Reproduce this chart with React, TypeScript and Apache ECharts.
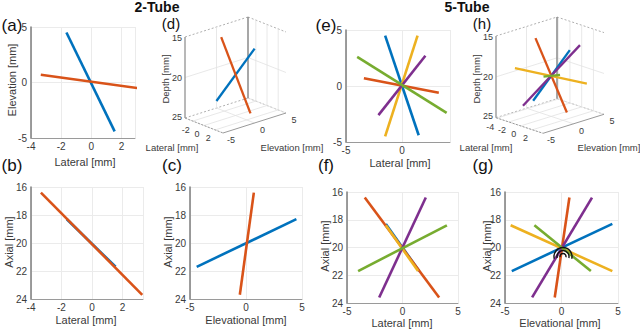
import React, { useEffect, useRef } from "react";
import * as echarts from "echarts";

// ---------------- data ----------------
const TUBE_COLORS = ["#0072BD", "#D95319", "#EDB120", "#7E2F8E", "#77AC30"];

// 2-tube phantom: [blue, orange], each [start, end] in mm
const twoTubeLateral = [[-1.65, 1.55], [-3.35, 3.3]];
const twoTubeElevation = [[4.5, -4.4], [0.7, -0.55]];
const twoTubeAxial = [[18.3, 21.7], [16.4, 23.7]];

// 5-tube phantom: [blue, orange, yellow, purple, green]
const fiveTubeLateral = [[-1.5, 1.5], [-3.4, 3.3], [-1.5, 1.4], [-2.1, 2.1], [-4.0, 4.0]];
const fiveTubeElevation = [[4.5, -4.4], [0.7, -0.6], [-4.5, 4.5], [-2.6, 2.7], [2.6, -2.4]];
const fiveTubeAxial = [[18.3, 21.7], [16.4, 23.6], [18.4, 21.7], [23.6, 16.4], [21.7, 18.4]];

// 3D tick labels
const depthTicks = [15, 20, 25];
const elevationTicks3D = [-5, 0, 5];
const lateralTicksTwo = [-2, 0, 2];
const lateralTicksFive = [-4, -2, 0, 2];

const FONT = "'Liberation Sans', Arial, Helvetica, sans-serif";
const TEXT_COLOR = "#3a3a3a";

type Panel2D = {
  left: number; top: number; width: number; height: number;
  x: [number, number]; xi: number; y: [number, number]; yi: number; inv: boolean;
  xs: number[][]; ys: number[][];
};

const panels2D: Panel2D[] = [
  { left: 31, top: 27, width: 104, height: 111, x: [-4, 2.9], xi: 2, y: [-5, 5], yi: 5, inv: false, xs: twoTubeLateral, ys: twoTubeElevation },
  { left: 31, top: 187, width: 112, height: 112, x: [-4, 3.35], xi: 2, y: [16, 24], yi: 2, inv: true, xs: twoTubeLateral, ys: twoTubeAxial },
  { left: 190, top: 187, width: 112, height: 112, x: [-5, 5], xi: 5, y: [16, 24], yi: 2, inv: true, xs: twoTubeElevation, ys: twoTubeAxial },
  { left: 346, top: 30, width: 104, height: 112, x: [-5, 4.3], xi: 5, y: [-5, 5], yi: 5, inv: false, xs: fiveTubeLateral, ys: fiveTubeElevation },
  { left: 347, top: 192, width: 111, height: 111, x: [-5, 5], xi: 5, y: [16, 24], yi: 2, inv: true, xs: fiveTubeLateral, ys: fiveTubeAxial },
  { left: 505, top: 192, width: 113, height: 111, x: [-5, 5], xi: 5, y: [16, 24], yi: 2, inv: true, xs: fiveTubeElevation, ys: fiveTubeAxial },
];

type Panel3D = {
  corner: [number, number]; latVec: [number, number]; elevVec: [number, number]; h: number;
  lat: [number, number]; elev: [number, number]; depth: [number, number]; latTicks: number[];
  lats: number[][]; elevs: number[][]; depths: number[][];
  depthTitle: [number, number]; latTitle: [number, number]; elevTitle: [number, number];
};

const panels3D: Panel3D[] = [
  {
    corner: [185, 118], latVec: [38, 15], elevVec: [63, -20], h: 81,
    lat: [-3.4, 3.4], elev: [-5, 5], depth: [15, 25], latTicks: lateralTicksTwo,
    lats: twoTubeLateral, elevs: twoTubeElevation, depths: twoTubeAxial,
    depthTitle: [165, 79], latTitle: [172, 147], elevTitle: [292, 147],
  },
  {
    corner: [496, 117.7], latVec: [47, 15.6], elevVec: [61, -19], h: 81.7,
    lat: [-4.2, 3.8], elev: [-5, 5], depth: [15, 25], latTicks: lateralTicksFive,
    lats: fiveTubeLateral, elevs: fiveTubeElevation, depths: fiveTubeAxial,
    depthTitle: [476, 79], latTitle: [486, 147], elevTitle: [609, 147],
  },
];

function project(p: Panel3D, lat: number, elev: number, depth: number): [number, number] {
  const fl = (lat - p.lat[0]) / (p.lat[1] - p.lat[0]);
  const fe = (elev - p.elev[0]) / (p.elev[1] - p.elev[0]);
  const fd = (p.depth[1] - depth) / (p.depth[1] - p.depth[0]);
  return [
    p.corner[0] + fl * p.latVec[0] + fe * p.elevVec[0],
    p.corner[1] + fl * p.latVec[1] + fe * p.elevVec[1] - fd * p.h,
  ];
}

function txt(x: number, y: number, t: string, o: any = {}) {
  return {
    type: "text", x, y, silent: true, rotation: o.rotation || 0, z: 10,
    style: {
      text: t, fontSize: o.size || 10, fontFamily: FONT, fontWeight: o.weight || "normal",
      fill: o.color || TEXT_COLOR, align: o.align || "center", verticalAlign: "middle",
    },
  };
}

function seg(a: [number, number], b: [number, number], stroke: string, width: number, dash?: number[]) {
  return {
    type: "line", silent: true, z: 1,
    shape: { x1: a[0], y1: a[1], x2: b[0], y2: b[1] },
    style: { stroke, lineWidth: width, lineDash: dash || null },
  };
}

function buildOption() {
  const grid: any[] = [];
  const xAxis: any[] = [];
  const yAxis: any[] = [];
  const series: any[] = [];
  const graphic: any[] = [];

  panels2D.forEach((p, i) => {
    grid.push({ left: p.left, top: p.top, width: p.width, height: p.height, containLabel: false, outerBoundsMode: "none" });
    const xOnTick = Math.abs((p.x[1] - p.x[0]) / p.xi - Math.round((p.x[1] - p.x[0]) / p.xi)) < 1e-6;
    xAxis.push({
      gridIndex: i, type: "value", min: p.x[0], max: p.x[1], interval: p.xi,
      axisLine: { show: true, onZero: false, lineStyle: { color: "#9a9a9a", width: 1 } },
      axisTick: { show: false },
      axisLabel: { fontSize: 10, color: TEXT_COLOR, margin: 3, fontFamily: FONT, showMaxLabel: xOnTick, showMinLabel: true },
      splitLine: { show: true, lineStyle: { color: "#ebebeb", width: 1 } },
    });
    yAxis.push({
      gridIndex: i, type: "value", min: p.y[0], max: p.y[1], interval: p.yi, inverse: p.inv,
      axisLine: { show: true, onZero: false, lineStyle: { color: "#7d7d7d", width: 1.5 } },
      axisTick: { show: false },
      axisLabel: { fontSize: 10, color: TEXT_COLOR, margin: 4, fontFamily: FONT, showMaxLabel: true, showMinLabel: true },
      splitLine: { show: true, lineStyle: { color: "#ebebeb", width: 1 } },
    });
    p.xs.forEach((xv, k) => {
      series.push({
        type: "line", xAxisIndex: i, yAxisIndex: i, symbol: "none", silent: true, clip: true,
        data: [[xv[0], p.ys[k][0]], [xv[1], p.ys[k][1]]],
        lineStyle: { color: TUBE_COLORS[k], width: 2.6 },
        z: 3 + k,
      });
    });
  });

  // hidden pixel grid for the 3D projections
  const hi = panels2D.length;
  grid.push({ left: 0, top: 0, width: 640, height: 332, containLabel: false, outerBoundsMode: "none" });
  xAxis.push({ gridIndex: hi, type: "value", min: 0, max: 640, show: false });
  yAxis.push({ gridIndex: hi, type: "value", min: 0, max: 332, inverse: true, show: false });

  panels3D.forEach((p) => {
    const [l0, l1] = p.lat;
    const [e0, e1] = p.elev;
    const [d0, d1] = p.depth;
    const gridC = "#e2e2e2";
    const edgeC = "#a6a6a6";
    depthTicks.forEach((d) => {
      const edge = d === d0 || d === d1;
      graphic.push(seg(project(p, l0, e0, d), project(p, l0, e1, d), edge ? edgeC : gridC, edge ? 0.9 : 0.8, edge ? [2, 2] : undefined));
      graphic.push(seg(project(p, l0, e1, d), project(p, l1, e1, d), edge ? edgeC : gridC, edge ? 0.9 : 0.8, edge ? [2, 2] : undefined));
    });
    elevationTicks3D.forEach((e) => {
      if (e > e0 && e < e1) graphic.push(seg(project(p, l0, e, d0), project(p, l0, e, d1), gridC, 0.8));
      graphic.push(seg(project(p, l1, e, d1), project(p, l0, e, d1), gridC, 0.8));
    });
    p.latTicks.forEach((l) => {
      graphic.push(seg(project(p, l, e1, d0), project(p, l, e1, d1), gridC, 0.8));
      graphic.push(seg(project(p, l, e0, d1), project(p, l, e1, d1), gridC, 0.8));
    });
    graphic.push(seg(project(p, l0, e0, d0), project(p, l0, e0, d1), "#a0a0a0", 1.5));
    graphic.push(seg(project(p, l0, e1, d0), project(p, l0, e1, d1), "#8a8a8a", 1.5));
    graphic.push(seg(project(p, l0, e0, d1), project(p, l1, e0, d1), "#9a9a9a", 1, [2, 1.5]));
    graphic.push(seg(project(p, l1, e0, d1), project(p, l1, e1, d1), "#9a9a9a", 1));
    depthTicks.forEach((d) => {
      const q = project(p, l0, e0, d);
      const dy = d === d1 ? -1.5 : d === d0 ? 1 : 0;
      graphic.push(txt(q[0] - 3, q[1] + dy, String(d), { size: 9, align: "right" }));
    });
    p.latTicks.forEach((l) => {
      const q = project(p, l, e0, d1);
      graphic.push(txt(q[0] - 7, q[1] + 8.5, String(l), { size: 9 }));
    });
    elevationTicks3D.forEach((e) => {
      const q = project(p, l1, e, d1);
      graphic.push(txt(q[0] + 8, q[1] + 7, String(e), { size: 9 }));
    });
    graphic.push(txt(p.depthTitle[0], p.depthTitle[1], "Depth [mm]", { size: 9.5, rotation: Math.PI / 2 }));
    graphic.push(txt(p.latTitle[0], p.latTitle[1], "Lateral [mm]", { size: 9.5 }));
    graphic.push(txt(p.elevTitle[0], p.elevTitle[1], "Elevation [mm]", { size: 9.5 }));
    p.lats.forEach((lv, k) => {
      const a = project(p, lv[0], p.elevs[k][0], p.depths[k][0]);
      const b = project(p, lv[1], p.elevs[k][1], p.depths[k][1]);
      series.push({
        type: "line", xAxisIndex: hi, yAxisIndex: hi, symbol: "none", silent: true, clip: false,
        data: [a, b], lineStyle: { color: TUBE_COLORS[k], width: 2.3 }, z: 3 + k,
      });
    });
  });

  // axis titles of 2D panels
  const T = 11;
  graphic.push(txt(12, 80, "Elevation [mm]", { size: T, rotation: Math.PI / 2 }));
  graphic.push(txt(85, 162, "Lateral [mm]", { size: T }));
  graphic.push(txt(9, 242, "Axial [mm]", { size: T, rotation: Math.PI / 2 }));
  graphic.push(txt(86, 320, "Lateral [mm]", { size: T }));
  graphic.push(txt(168, 242, "Axial [mm]", { size: T, rotation: Math.PI / 2 }));
  graphic.push(txt(246, 320, "Elevational [mm]", { size: T }));
  graphic.push(txt(400, 163, "Lateral [mm]", { size: T }));
  graphic.push(txt(325, 246, "Axial [mm]", { size: T, rotation: Math.PI / 2 }));
  graphic.push(txt(402, 323, "Lateral [mm]", { size: T }));
  graphic.push(txt(487, 246, "Axial [mm]", { size: T, rotation: Math.PI / 2 }));
  graphic.push(txt(560, 323, "Elevational [mm]", { size: T }));

  // panel letters and titles
  const letters: [string, number, number, number][] = [
    ["(a)", 12, 25, 17], ["(b)", 12, 165, 17], ["(c)", 172, 165, 17], ["(d)", 171, 23.5, 15],
    ["(e)", 326, 25, 17], ["(f)", 326, 165, 17], ["(g)", 483, 165, 17], ["(h)", 482, 23.5, 15],
  ];
  letters.forEach(([s, x, y, sz]) => graphic.push(txt(x, y, s, { size: sz, color: "#111" })));
  graphic.push(txt(157, 7, "2-Tube", { size: 14, weight: "bold", color: "#111" }));
  graphic.push(txt(467, 7, "5-Tube", { size: 14, weight: "bold", color: "#111" }));

  // transducer marker in (g)
  [3, 6, 9].forEach((r) => {
    graphic.push({
      type: "arc", silent: true, z: 20,
      shape: { cx: 563, cy: 256.5, r, startAngle: Math.PI * 0.92, endAngle: Math.PI * 2.08, clockwise: true },
      style: { stroke: "#111", lineWidth: 1.4, fill: "none" },
    });
  });

  return { animation: false, backgroundColor: "#ffffff", grid, xAxis, yAxis, series, graphic };
}

export default function App() {
  const ref = useRef<HTMLDivElement>(null);
  useEffect(() => {
    document.body.style.margin = "0";
    if (!ref.current) return;
    const chart = echarts.init(ref.current, undefined, { renderer: "svg" });
    chart.setOption(buildOption() as any);
    return () => chart.dispose();
  }, []);
  return <div ref={ref} style={{ width: 640, height: 332 }} />;
}
